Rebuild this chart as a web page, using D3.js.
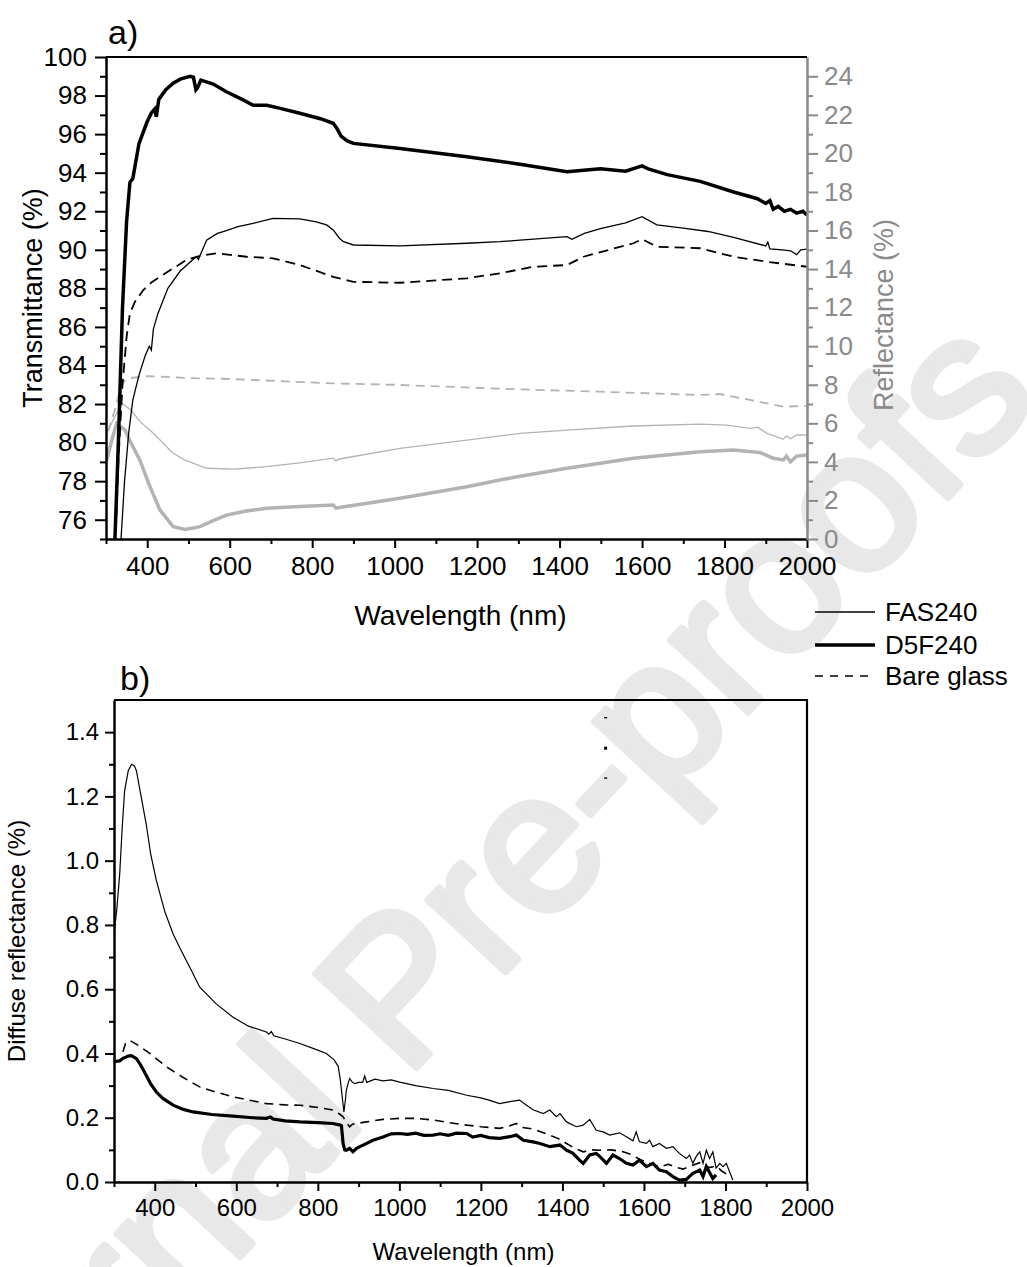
<!DOCTYPE html>
<html>
<head>
<meta charset="utf-8">
<script src="https://cdn.jsdelivr.net/npm/d3@7"></script>
<style>
  body { margin: 0; background: #fff; }
  svg text { font-family: "Liberation Sans", Arial, sans-serif; }
</style>
</head>
<body>
<div id="chart"></div>
<script>
// ---- panel a: transmittance (left axis) ----
const tD5F_wl = [320,330,340,350,358,365,380,399,410,418,422,428,445,463,480,504,512,518,522,530,560,592,630,657,690,720,770,820,851,860,870,885,900,1013,1175,1300,1418,1499,1560,1600,1615,1661,1741,1822,1880,1900,1910,1918,1930,1945,1960,1975,1990,2000];
const tD5F    = [74,80,87,91.5,93.5,93.7,95.5,96.6,97.1,97.3,96.9,97.8,98.3,98.64,98.85,99.0,98.95,98.3,98.4,98.8,98.6,98.2,97.8,97.5,97.5,97.35,97.08,96.8,96.56,96.3,95.9,95.65,95.52,95.26,94.83,94.45,94.05,94.2,94.08,94.35,94.2,93.9,93.55,93.0,92.65,92.4,92.55,92.1,92.25,92.0,92.1,91.9,92.0,91.8];

const tFAS_wl = [335,345,355,365,380,395,405,410,415,426,450,480,511,520,524,544,570,592,620,657,705,770,810,835,851,866,876,900,1013,1175,1255,1304,1418,1430,1460,1499,1560,1600,1636,1700,1760,1822,1900,1905,1910,1940,1960,1975,1985,2000];
const tFAS    = [74.5,78,80.5,82.2,83.5,84.5,85.0,84.8,85.9,86.7,88.0,88.9,89.5,89.65,89.5,90.5,90.85,91.0,91.2,91.37,91.63,91.6,91.45,91.29,91.03,90.6,90.42,90.25,90.2,90.34,90.42,90.5,90.68,90.54,90.85,91.1,91.4,91.72,91.29,91.12,90.95,90.65,90.2,90.4,90.05,90.0,89.95,89.75,90.0,90.03];

const tBare_wl = [322,330,340,350,358,370,390,410,431,460,495,530,568,641,705,770,851,900,1013,1175,1255,1336,1418,1458,1579,1600,1636,1741,1822,1903,2000];
const tBare    = [74.5,79,83,85.5,86.7,87.3,87.9,88.3,88.6,89.0,89.47,89.7,89.82,89.64,89.56,89.21,88.6,88.34,88.29,88.52,88.78,89.12,89.21,89.64,90.34,90.55,90.16,90.08,89.64,89.38,89.12];

// ---- panel a: reflectance (right axis) ----
const rBare_wl = [305,320,335,345,360,400,500,600,851,1000,1304,1499,1741,1789,1862,1943,2000];
const rBare    = [5.6,6.6,7.8,8.2,8.35,8.45,8.35,8.3,8.07,8.0,7.76,7.64,7.47,7.52,7.21,6.86,6.91];

const rFAS_wl = [305,320,340,360,382,415,460,490,544,610,689,770,851,858,866,1013,1175,1304,1418,1579,1741,1806,1862,1880,1903,1943,1950,1960,1975,2000];
const rFAS    = [5.6,6.3,7.0,6.7,6.1,5.48,4.5,4.1,3.67,3.62,3.75,3.95,4.19,4.05,4.15,4.7,5.13,5.48,5.65,5.86,5.96,5.91,5.74,5.8,5.48,5.17,5.35,5.2,5.4,5.39];

const rD5F_wl = [302,315,326,346,360,382,405,431,463,492,528,560,592,640,689,770,851,858,870,1013,1175,1255,1304,1418,1579,1741,1822,1887,1918,1943,1950,1960,1975,2000];
const rD5F    = [4.1,5.2,6.0,5.65,5.0,4.1,2.8,1.5,0.64,0.5,0.64,0.95,1.24,1.45,1.59,1.68,1.76,1.6,1.65,2.11,2.71,3.06,3.25,3.67,4.19,4.53,4.62,4.48,4.19,4.1,4.3,4.0,4.3,4.36];

// ---- panel b: diffuse reflectance ----
const dFAS_wl = [300,307,314,320,326,335,343,350,355,365,379,390,404,425,445,465,490,510,550,592,630,674,680,686,692,720,756,790,821,840,850,855,858,864,868,870,875,878,885,891,900,910,915,920,940,960,980,1001,1040,1083,1120,1165,1200,1220,
  1246,1271,1295,1312,1328,1353,1369,1385,1394,1410,1434,1451,1467,1483,1500,1516,1540,1557,1573,1581,1589,1606,1614,1622,1638,1655,1671,1687,1704,1712,1720,1728,1737,1745,1753,1761,1769,1777,1786,1794,1802,1818];
const dFAS    = [0.772,0.85,0.959,1.1,1.217,1.28,1.30,1.295,1.28,1.21,1.114,1.02,0.938,0.84,0.772,0.72,0.658,0.607,0.555,0.513,0.485,0.467,0.46,0.468,0.455,0.445,0.431,0.415,0.40,0.38,0.36,0.32,0.286,0.218,0.26,0.286,0.31,0.322,0.31,0.306,0.31,0.31,0.33,0.31,0.32,0.315,0.318,0.311,0.30,0.291,0.285,0.27,0.262,0.255,
  0.244,0.25,0.255,0.239,0.225,0.213,0.224,0.203,0.213,0.187,0.172,0.177,0.195,0.161,0.156,0.146,0.153,0.141,0.128,0.156,0.125,0.12,0.13,0.11,0.12,0.105,0.11,0.089,0.073,0.084,0.058,0.079,0.094,0.058,0.099,0.073,0.094,0.043,0.058,0.048,0.058,0.006];

const dD5F_wl = [300,314,322,335,343,355,365,379,390,404,420,445,470,494,540,592,640,674,684,690,720,756,800,837,855,858,862,866,870,878,886,895,903,920,935,960,980,1001,1020,1040,1060,1083,1100,1120,1140,1165,1180,1200,1220,
  1246,1271,1287,1304,1328,1345,1369,1394,1410,1426,1442,1451,1467,1483,1492,1508,1524,1540,1557,1573,1589,1606,1622,1638,1655,1671,1687,1704,1720,1737,1745,1753,1769,1777];
const dD5F    = [0.375,0.377,0.385,0.392,0.393,0.384,0.365,0.332,0.305,0.28,0.26,0.239,0.226,0.218,0.21,0.205,0.2,0.198,0.202,0.196,0.19,0.187,0.185,0.182,0.177,0.175,0.12,0.1,0.099,0.105,0.094,0.105,0.11,0.12,0.13,0.14,0.15,0.151,0.148,0.152,0.145,0.146,0.15,0.145,0.152,0.151,0.14,0.145,0.138,
  0.136,0.141,0.146,0.13,0.125,0.12,0.11,0.115,0.099,0.089,0.068,0.058,0.084,0.089,0.079,0.058,0.084,0.073,0.058,0.053,0.068,0.048,0.058,0.037,0.032,0.017,0.006,0.008,0.027,0.037,0.017,0.048,0.011,0.022];

const dBare_wl = [322,328,338,360,388,429,470,510,550,592,630,674,720,756,800,837,855,862,870,878,885,895,919,960,1001,1040,1083,1120,1165,1200,1246,1271,1287,1300,1328,1369,1390,1410,1430,1451,1475,1492,1520,1549,1570,1590,1610,1639,1660,1680,1696,1715,1737,1760,1778,1790,1802];
const dBare    = [0.405,0.43,0.441,0.425,0.40,0.358,0.325,0.296,0.28,0.265,0.255,0.244,0.24,0.239,0.232,0.224,0.21,0.203,0.185,0.172,0.18,0.182,0.187,0.195,0.198,0.198,0.193,0.185,0.177,0.172,0.167,0.175,0.182,0.17,0.165,0.146,0.135,0.12,0.105,0.094,0.1,0.099,0.1,0.094,0.085,0.07,0.06,0.047,0.055,0.045,0.04,0.05,0.06,0.045,0.05,0.035,0.025];

// stray marks left over in panel b
const strayWl = [1506,1506,1506];
const strayVal = [1.445,1.35,1.257];

const legendNames = ['FAS240','D5F240','Bare glass'];

const W = 1027, H = 1267;
const GRAY_AXIS = '#8a8a8a', GRAY_LINE = '#b3b3b3';

const svg = d3.select('#chart').append('svg')
  .attr('width', W).attr('height', H);
svg.append('rect').attr('width', W).attr('height', H).attr('fill', '#fff');

// watermark
svg.append('text')
  .attr('transform', 'translate(-80,1600) rotate(-47)')
  .attr('font-size', 200)
  .attr('fill', '#e8e8e8')
  .attr('stroke', '#e8e8e8')
  .attr('stroke-width', 7)
  .attr('stroke-linejoin', 'round')
  .text('Journal Pre-proofs');

const pairs = (xs, ys) => d3.zip(xs, ys);

function drawMinor(g, axisFn, scale, values, size){
  g.call(axisFn(scale).tickValues(values).tickSize(size).tickSizeOuter(0).tickFormat(''));
}

// ================= panel a =================
const A = {left:106, top:57, right:807, bottom:539};
const xa = d3.scaleLinear().domain([300,2000]).range([A.left, A.right]);
const ya = d3.scaleLinear().domain([75,100]).range([A.bottom, A.top]);
const yr = d3.scaleLinear().domain([0,25]).range([A.bottom, A.top]);

svg.append('clipPath').attr('id','clipA').append('rect')
  .attr('x', A.left).attr('y', A.top).attr('width', A.right-A.left).attr('height', A.bottom-A.top);

const lineA = d3.line().x(d=>xa(d[0])).y(d=>ya(d[1]));
const lineR = d3.line().x(d=>xa(d[0])).y(d=>yr(d[1]));

const ga = svg.append('g').attr('clip-path','url(#clipA)');
ga.append('path').datum(pairs(rBare_wl, rBare)).attr('d', lineR)
  .attr('fill','none').attr('stroke',GRAY_LINE).attr('stroke-width',1.8).attr('stroke-dasharray','9,6');
ga.append('path').datum(pairs(rFAS_wl, rFAS)).attr('d', lineR)
  .attr('fill','none').attr('stroke',GRAY_LINE).attr('stroke-width',1.3);
ga.append('path').datum(pairs(rD5F_wl, rD5F)).attr('d', lineR)
  .attr('fill','none').attr('stroke',GRAY_LINE).attr('stroke-width',3.5);
ga.append('path').datum(pairs(tBare_wl, tBare)).attr('d', lineA)
  .attr('fill','none').attr('stroke','#000').attr('stroke-width',1.8).attr('stroke-dasharray','10,6');
ga.append('path').datum(pairs(tFAS_wl, tFAS)).attr('d', lineA)
  .attr('fill','none').attr('stroke','#000').attr('stroke-width',1.3);
ga.append('path').datum(pairs(tD5F_wl, tD5F)).attr('d', lineA)
  .attr('fill','none').attr('stroke','#000').attr('stroke-width',3.5);

// axes a
const xaxA = svg.append('g').attr('transform',`translate(0,${A.bottom})`);
drawMinor(xaxA.append('g'), d3.axisBottom, xa, d3.range(300,2000,200), 5);
xaxA.append('g').call(d3.axisBottom(xa).tickValues(d3.range(400,2001,200)).tickFormat(d3.format('d'))
  .tickSize(9).tickSizeOuter(0).tickPadding(9));

const yaxA = svg.append('g').attr('transform',`translate(${A.left},0)`);
drawMinor(yaxA.append('g'), d3.axisLeft, ya, d3.range(75,100,2), 6);
yaxA.append('g').call(d3.axisLeft(ya).tickValues(d3.range(76,101,2)).tickSize(11).tickSizeOuter(0).tickPadding(8));

const yaxR = svg.append('g').attr('transform',`translate(${A.right},0)`);
drawMinor(yaxR.append('g'), d3.axisRight, yr, d3.range(1,25,2), 6);
yaxR.append('g').call(d3.axisRight(yr).tickValues(d3.range(0,25,2)).tickSize(11).tickSizeOuter(0).tickPadding(6));

svg.append('line').attr('x1',A.left).attr('x2',A.right).attr('y1',A.top).attr('y2',A.top)
  .attr('stroke','#000').attr('stroke-width',2.2);

[xaxA, yaxA].forEach(g => {
  g.selectAll('path, line').attr('stroke','#000').attr('stroke-width',2);
  g.selectAll('text').attr('font-size',26).attr('fill','#000');
});
yaxR.selectAll('path, line').attr('stroke',GRAY_AXIS).attr('stroke-width',2);
yaxR.selectAll('text').attr('font-size',26).attr('fill',GRAY_AXIS);

svg.append('text').attr('x',108).attr('y',44).attr('font-size',34).text('a)');
svg.append('text').attr('x',(A.left+A.right)/2 + 4).attr('y',625).attr('text-anchor','middle')
  .attr('font-size',28).text('Wavelength (nm)');
svg.append('text').attr('transform',`translate(42,${(A.top+A.bottom)/2}) rotate(-90)`)
  .attr('text-anchor','middle').attr('font-size',27).text('Transmittance (%)');
svg.append('text').attr('transform',`translate(893,315) rotate(-90)`)
  .attr('text-anchor','middle').attr('font-size',27).attr('fill',GRAY_AXIS).text('Reflectance (%)');

// legend
const legStyles = [{w:1.3, dash:null}, {w:3.5, dash:null}, {w:1.6, dash:'8,7'}];
const legY = [612, 645, 676];
legendNames.forEach((name, i) => {
  svg.append('line').attr('x1',815).attr('x2',875).attr('y1',legY[i]).attr('y2',legY[i])
    .attr('stroke','#000').attr('stroke-width',legStyles[i].w)
    .attr('stroke-dasharray',legStyles[i].dash);
  svg.append('text').attr('x',885).attr('y',legY[i]+9).attr('font-size',26).text(name);
});

// ================= panel b =================
const B = {left:114, top:700, right:807, bottom:1182};
const xb = d3.scaleLinear().domain([300,2000]).range([B.left, B.right]);
const yb = d3.scaleLinear().domain([0,1.5]).range([B.bottom, B.top]);

svg.append('clipPath').attr('id','clipB').append('rect')
  .attr('x', B.left).attr('y', B.top).attr('width', B.right-B.left).attr('height', B.bottom-B.top);

const lineB = d3.line().x(d=>xb(d[0])).y(d=>yb(d[1]));
const gb = svg.append('g').attr('clip-path','url(#clipB)');
gb.append('path').datum(pairs(dBare_wl, dBare)).attr('d', lineB)
  .attr('fill','none').attr('stroke','#000').attr('stroke-width',1.6).attr('stroke-dasharray','9,6');
gb.append('path').datum(pairs(dFAS_wl, dFAS)).attr('d', lineB)
  .attr('fill','none').attr('stroke','#000').attr('stroke-width',1.2);
gb.append('path').datum(pairs(dD5F_wl, dD5F)).attr('d', lineB)
  .attr('fill','none').attr('stroke','#000').attr('stroke-width',3.2);

gb.selectAll('.stray').data(pairs(strayWl, strayVal)).enter().append('rect')
  .attr('x', d => xb(d[0]) - 1.5).attr('y', (d,i) => yb(d[1]) - (i === 1 ? 1.5 : 0.7))
  .attr('width', 3).attr('height', (d,i) => i === 1 ? 3 : 1.4).attr('fill','#000');

const xaxB = svg.append('g').attr('transform',`translate(0,${B.bottom})`);
drawMinor(xaxB.append('g'), d3.axisBottom, xb, d3.range(300,2000,200), 5);
xaxB.append('g').call(d3.axisBottom(xb).tickValues(d3.range(400,2001,200)).tickFormat(d3.format('d'))
  .tickSize(9).tickSizeOuter(0).tickPadding(8));

const yaxB = svg.append('g').attr('transform',`translate(${B.left},0)`);
drawMinor(yaxB.append('g'), d3.axisLeft, yb, d3.range(0.1,1.5,0.2), 5);
yaxB.append('g').call(d3.axisLeft(yb).tickValues(d3.range(0,1.41,0.2)).tickFormat(d3.format('.1f'))
  .tickSize(9).tickSizeOuter(0).tickPadding(6));

[xaxB, yaxB].forEach(g => {
  g.selectAll('path, line').attr('stroke','#000').attr('stroke-width',2);
  g.selectAll('text').attr('font-size',24).attr('fill','#000');
});
svg.append('path')
  .attr('d', `M${B.left},${B.top}H${B.right}V${B.bottom}`)
  .attr('fill','none').attr('stroke','#000').attr('stroke-width',2.2);

svg.append('text').attr('x',120).attr('y',690).attr('font-size',34).text('b)');
svg.append('text').attr('x',(B.left+B.right)/2 + 3).attr('y',1260).attr('text-anchor','middle')
  .attr('font-size',24).text('Wavelength (nm)');
svg.append('text').attr('transform',`translate(25,${(B.top+B.bottom)/2}) rotate(-90)`)
  .attr('text-anchor','middle').attr('font-size',24).text('Diffuse reflectance (%)');
</script>
</body>
</html>
